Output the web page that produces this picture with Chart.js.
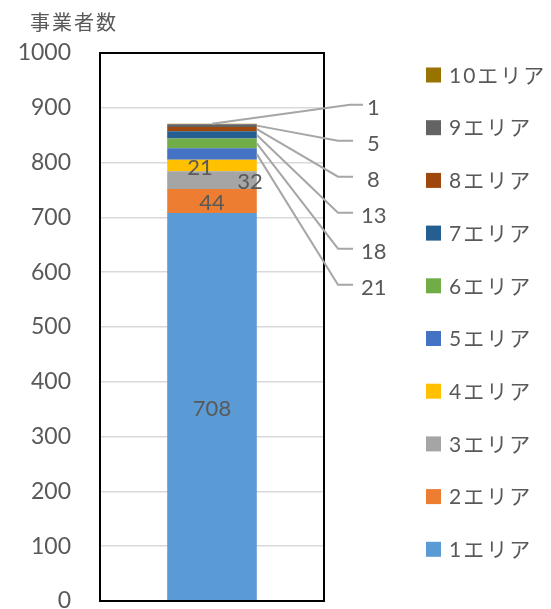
<!DOCTYPE html>
<html><head><meta charset="utf-8">
<script src="https://cdn.jsdelivr.net/npm/chart.js@4/dist/chart.umd.min.js"></script>
<style>html,body{margin:0;padding:0;background:#fff;overflow:hidden;}#wrap{width:551px;height:609px;position:relative;}</style>
</head><body><div id="wrap"><canvas id="c"></canvas></div>
<script>
const categories = [''];
const areaNames = ['1エリア','2エリア','3エリア','4エリア','5エリア','6エリア','7エリア','8エリア','9エリア','10エリア'];
const areaValues = [708, 44, 32, 21, 21, 18, 13, 8, 5, 1];
const areaColors = ['#5B9BD5','#ED7D31','#A5A5A5','#FFC000','#4472C4','#70AD47','#255E91','#9E480E','#636363','#997300'];
const yTicks = [0,100,200,300,400,500,600,700,800,900,1000];
const yTitle = '事業者数';

const FONT = "Lato, 'Noto Sans CJK JP', sans-serif";
const TXT = '#595959';

const datasets = areaNames.map((n,i)=>({label:n,data:[areaValues[i]],backgroundColor:areaColors[i],borderWidth:0}));

const deco = {
  id:'deco',
  afterDatasetsDraw(chart){
    const ctx = chart.ctx, ca = chart.chartArea, y = chart.scales.y;
    ctx.save();
    ctx.strokeStyle = '#000'; ctx.lineWidth = 2;
    ctx.strokeRect(ca.left, ca.top, ca.right-ca.left, ca.bottom-ca.top);
    ctx.fillStyle = TXT; ctx.font = "20px " + FONT; ctx.textAlign='left'; ctx.textBaseline='middle';
    if ('letterSpacing' in ctx) ctx.letterSpacing = '2px';
    ctx.fillText(yTitle, ca.left-70, 24);
    if ('letterSpacing' in ctx) ctx.letterSpacing = '0px';
    const bar0 = chart.getDatasetMeta(0).data[0];
    const cx = bar0.x, half = bar0.width/2;
    let cum = 0;
    const mids = areaValues.map(v=>{const m = cum + v/2; cum += v; return m;});
    const total = cum;
    ctx.font = "22px " + FONT; ctx.textAlign='center';
    const inside = {0:0, 1:0, 2:38, 3:-12};
    Object.keys(inside).forEach(k=>{
      const i = +k;
      ctx.fillStyle = TXT;
      ctx.fillText(String(areaValues[i]), cx + inside[k], y.getPixelForValue(mids[i]) + 2);
    });
    const topPx = y.getPixelForValue(total);
    const outside = [9,8,7,6,5,4];
    outside.forEach((i,j)=>{
      const ly = topPx - 17 + j*36;
      const lineY = ly - 2;
      const sx = (i===9) ? cx : cx + half;
      const sy = (i===9) ? topPx : y.getPixelForValue(mids[i]);
      ctx.strokeStyle = '#A6A6A6'; ctx.lineWidth = 2;
      ctx.beginPath();
      ctx.moveTo(sx, sy);
      const hx = (i===9) ? 350 : 338;
      ctx.lineTo(hx, lineY);
      ctx.lineTo(hx + 15 - (i===9?2:0), lineY);
      ctx.stroke();
      ctx.fillStyle = TXT;
      ctx.textAlign = 'left';
      const t = String(areaValues[i]);
      ctx.fillText(t, (t.length>1 ? 361 : 367), ly + 1);
    });
    ctx.font = "21px " + FONT; ctx.textAlign='left'; ctx.textBaseline='middle';
    if ('letterSpacing' in ctx) ctx.letterSpacing = '2px';
    for (let k=0;k<areaNames.length;k++){
      const i = areaNames.length-1-k;
      const yy = 75 + k*52.7;
      ctx.fillStyle = areaColors[i];
      ctx.fillRect(426, yy-7.5, 15, 15);
      ctx.fillStyle = TXT;
      ctx.fillText(areaNames[i], 449, yy+1);
    }
    if ('letterSpacing' in ctx) ctx.letterSpacing = '0px';
    ctx.restore();
  }
};

new Chart(document.getElementById('c'), {
  type:'bar',
  data:{labels:categories, datasets},
  options:{
    responsive:true, maintainAspectRatio:false, animation:false,
    layout:{padding:{top:53,right:227,bottom:8,left:0}},
    datasets:{bar:{barPercentage:0.4,categoryPercentage:1}},
    plugins:{legend:{display:false},tooltip:{enabled:false}},
    scales:{
      x:{stacked:true,display:false},
      y:{stacked:true,min:0,max:1000,
        afterFit(s){s.width=100; s.paddingTop=0; s.paddingBottom=0;},
        afterBuildTicks(s){s.ticks = yTicks.map(v=>({value:v}));},
        border:{display:false},
        grid:{color:'#D9D9D9',lineWidth:1.5,drawTicks:false},
        ticks:{padding:29,color:TXT,font:{size:23,family:FONT},callback:(v)=>String(v)}
      }
    }
  },
  plugins:[deco]
});
</script></body></html>
